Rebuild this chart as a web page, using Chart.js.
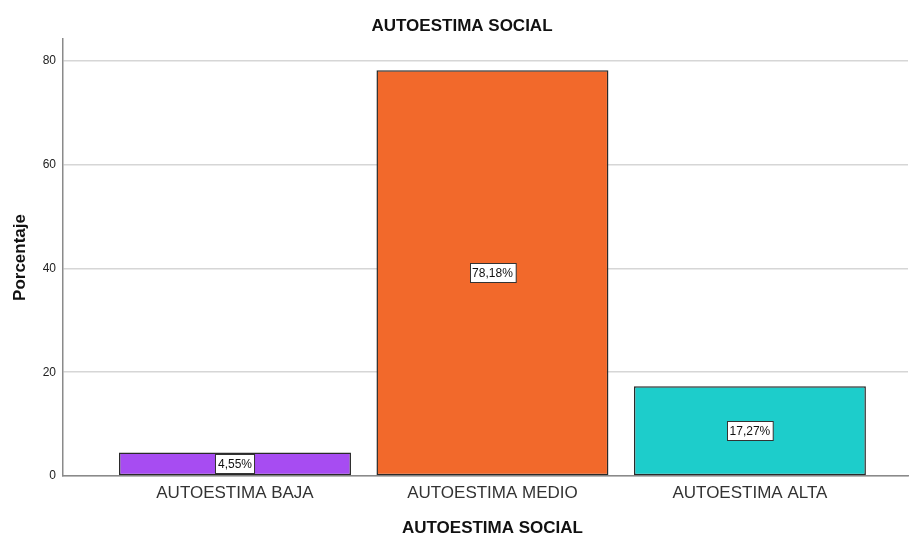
<!DOCTYPE html>
<html>
<head>
<meta charset="utf-8">
<script src="https://cdn.jsdelivr.net/npm/chart.js@4.4.0/dist/chart.umd.min.js"></script>
<style>
    html, body { margin: 0; padding: 0; background: #fff; }
    #wrap { width: 909px; height: 536px; position: relative; }
</style>
</head>
<body>
<div id="wrap"><canvas id="chartAutoestima"></canvas></div>
<script>
var categorias = ['AUTOESTIMA BAJA', 'AUTOESTIMA MEDIO', 'AUTOESTIMA ALTA'];
var porcentajes = [4.55, 78.18, 17.27];
var etiquetas = ['4,55%', '78,18%', '17,27%'];
var colores = ['#A74CF2', '#F2692B', '#1DCDCB'];

var tituloGrafico = 'AUTOESTIMA SOCIAL';
var tituloEjeX = 'AUTOESTIMA SOCIAL';
var tituloEjeY = 'Porcentaje';

var fuente = "'Liberation Sans', Arial, sans-serif";

// caja blanca con el porcentaje en medio de cada barra
var etiquetasBarras = {
    id: 'etiquetasBarras',
    afterDatasetsDraw: function (chart) {
        var ctx = chart.ctx;
        var meta = chart.getDatasetMeta(0);
        ctx.save();
        ctx.font = '12px ' + fuente;
        ctx.textAlign = 'center';
        ctx.textBaseline = 'middle';
        meta.data.forEach(function (bar, i) {
            var txt = etiquetas[i];
            var cy = (bar.y + bar.base) / 2;
            var w = ctx.measureText(txt).width + 5;
            var h = 19;
            var x0 = Math.round(bar.x - w / 2) + 0.5;
            var y0 = Math.round(cy - h / 2) + 0.5;
            ctx.fillStyle = '#fff';
            ctx.fillRect(x0, y0, w, h);
            ctx.strokeStyle = '#333';
            ctx.lineWidth = 1;
            ctx.strokeRect(x0, y0, w, h);
            ctx.fillStyle = '#111';
            ctx.fillText(txt, bar.x, cy + 0.5);
        });
        ctx.restore();
    }
};

// titulo del grafico y del eje x, centrados como en el original
var titulos = {
    id: 'titulos',
    afterDraw: function (chart) {
        var ctx = chart.ctx;
        var xs = chart.scales.x;
        ctx.save();
        ctx.font = 'bold 17px ' + fuente;
        ctx.fillStyle = '#111';
        ctx.textAlign = 'center';
        ctx.textBaseline = 'middle';
        ctx.fillText(tituloGrafico, 462, 26);
        ctx.fillText(tituloEjeX, xs.getPixelForValue(1), 528);
        ctx.restore();
    }
};

var datos = porcentajes.map(function (v, i) { return { x: i, y: v }; });

new Chart(document.getElementById('chartAutoestima').getContext('2d'), {
    type: 'bar',
    data: {
        labels: categorias,
        datasets: [{
            data: datos,
            backgroundColor: colores,
            borderColor: '#2a2a2a',
            borderWidth: 1.5,
            borderSkipped: false,
            barPercentage: 1,
            categoryPercentage: 0.901,
        }],
    },
    options: {
        responsive: true,
        maintainAspectRatio: false,
        animation: false,
        layout: { padding: { left: 0, right: 1, top: 39, bottom: 0 } },
        plugins: {
            legend: { display: false },
            tooltip: { enabled: false },
        },
        scales: {
            x: {
                type: 'linear',
                offset: false,
                min: -0.668,
                max: 2.614,
                afterFit: function (s) { s.height = 60; },
                afterBuildTicks: function (s) {
                    s.ticks = categorias.map(function (c, i) { return { value: i }; });
                },
                ticks: {
                    color: '#333',
                    padding: 7,
                    font: { family: fuente, size: 17 },
                    maxRotation: 0,
                    autoSkip: false,
                    callback: function (v) { return categorias[v]; },
                },
                grid: { display: false, drawTicks: false, offset: false },
                border: { display: true, color: '#8a8a8a', width: 1.5 },
            },
            y: {
                min: 0,
                max: 84.2,
                afterFit: function (s) { s.width = 63; },
                ticks: {
                    stepSize: 20,
                    includeBounds: false,
                    color: '#222',
                    padding: 7,
                    font: { family: fuente, size: 12 },
                },
                grid: { color: '#d6d6d6', lineWidth: 1.5, drawTicks: false },
                border: { display: true, color: '#8a8a8a', width: 1.5 },
                title: {
                    display: true,
                    text: tituloEjeY,
                    color: '#111',
                    font: { family: fuente, size: 17, weight: 'bold' },
                    padding: { top: 10, bottom: 0 },
                },
            },
        },
    },
    plugins: [etiquetasBarras, titulos],
});
</script>
</body>
</html>
